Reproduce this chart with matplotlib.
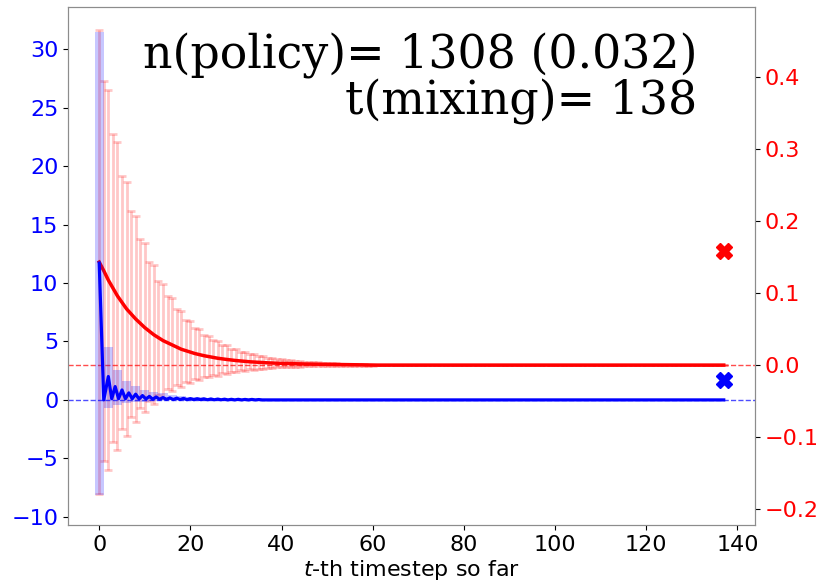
import matplotlib
matplotlib.use("Agg")
import matplotlib.pyplot as plt
import numpy as np

# timesteps for the red series
t = np.arange(138)

# red: mean with symmetric error (right axis)
red_mean = [0.143, 0.131, 0.118, 0.107, 0.096, 0.087, 0.078, 0.071, 0.064, 0.058,
            0.052, 0.047, 0.042, 0.038, 0.034, 0.031, 0.028, 0.025, 0.022, 0.020,
            0.018, 0.016, 0.0145, 0.013, 0.0118, 0.0106, 0.0095, 0.0086, 0.0078, 0.0070,
            0.0063, 0.0057, 0.0051, 0.0046, 0.0042, 0.0038, 0.0034, 0.0031, 0.0028, 0.0026,
            0.0024, 0.0022, 0.0020, 0.0018, 0.0017, 0.0015, 0.0014, 0.0013, 0.0012, 0.0011,
            0.0010, 0.0009, 0.0008, 0.0007, 0.0006, 0.0005, 0.0004, 0.0003, 0.0002, 0.0001,
            0.0] + [0.0] * 77
red_err = [0.322, 0.264, 0.264, 0.214, 0.214, 0.176, 0.176, 0.1435, 0.1435, 0.117,
           0.117, 0.0965, 0.0965, 0.079, 0.079, 0.0645, 0.0645, 0.053, 0.053, 0.043,
           0.043, 0.0355, 0.0355, 0.029, 0.029, 0.024, 0.024, 0.0195, 0.0195, 0.016,
           0.016, 0.013, 0.013, 0.0105, 0.0105, 0.0086, 0.0086, 0.007, 0.007, 0.0057,
           0.0057, 0.0046, 0.0046, 0.0038, 0.0038, 0.0031, 0.0031, 0.0025, 0.0025, 0.002,
           0.002, 0.0017, 0.0017, 0.0014, 0.0014, 0.0011, 0.0011, 0.0009, 0.0009, 0.0007,
           0.0007] + [0.0] * 77

# blue: bars (mean +- std) every second step (left axis)
bar_t = [0, 2, 4, 6, 8, 10, 12, 14, 16, 18, 20, 22, 24]
bar_lo = [-8.15, -0.68, -0.43, -0.30, -0.20, -0.15, -0.10, -0.07, -0.05, -0.04, -0.03, -0.02, -0.02]
bar_hi = [31.5, 4.55, 2.56, 1.60, 1.20, 0.85, 0.70, 0.57, 0.45, 0.35, 0.28, 0.22, 0.17]

# blue mean line
blue_t = np.r_[0, 1, np.arange(2, 36, 0.75), 137]
blue_mean = [11.7, 0.0,
             2.0, 0.1, 1.14, 0.1, 0.85, 0.1, 0.6, 0.1, 0.49, 0.08, 0.37, 0.08,
             0.3, 0.06, 0.25, 0.05, 0.2, 0.04, 0.17, 0.03, 0.15, 0.03, 0.13, 0.02,
             0.11, 0.02, 0.1, 0.02, 0.09, 0.01, 0.08, 0.01, 0.07, 0.01, 0.06, 0.0,
             0.05, 0.0, 0.05, 0.0, 0.04, 0.0, 0.04, 0.0, 0.03, 0.0,
             0.0]

final_blue = 1.7
final_red = 0.159
n_policy = 1308
frac = 0.032
t_mix = 138

fig = plt.figure(figsize=(8.31, 5.87), dpi=100)
ax1 = fig.add_axes([0.0818, 0.1056, 0.8267, 0.8824])
ax2 = ax1.twinx()

# red on right axis
ax2.errorbar(t, red_mean, yerr=red_err, fmt='none', ecolor='red', alpha=0.22,
             elinewidth=2, capsize=3, capthick=2)
ax2.plot(t, red_mean, color='red', lw=2.5)
ax2.axhline(0, color='red', ls='--', lw=1, alpha=0.7)
ax2.plot([t[-1]], [final_red], marker='X', color='red', ms=11, ls='none')

# blue on left axis
heights = np.array(bar_hi) - np.array(bar_lo)
ax1.bar(bar_t, heights, bottom=bar_lo, width=2, color='blue', alpha=0.22, lw=0)
ax1.plot(blue_t, blue_mean, color='blue', lw=2.3)
ax1.axhline(0, color='blue', ls='--', lw=1, alpha=0.7)
ax1.plot([t[-1]], [final_blue], marker='X', color='blue', ms=11, ls='none')

ax1.set_zorder(ax2.get_zorder() + 1)
ax1.patch.set_visible(False)

ax1.set_xlim(-6.85, 143.85)
ax1.set_ylim(-10.7, 33.6)
ax2.set_ylim(-0.222, 0.497)
ax1.set_xticks(range(0, 141, 20))
ax1.set_yticks(range(-10, 31, 5))
ax2.set_yticks([-0.2, -0.1, 0.0, 0.1, 0.2, 0.3, 0.4])

ax1.tick_params(axis='y', labelcolor='blue', labelsize=16)
ax2.tick_params(axis='y', labelcolor='red', labelsize=16)
ax1.tick_params(axis='x', labelsize=16)
for ax in (ax1, ax2):
    for s in ax.spines.values():
        s.set_color('0.55')
ax1.set_xlabel('$t$-th timestep so far', fontsize=16, labelpad=2)

ax1.text(0.916, 0.95, f"n(policy)= {n_policy} ({frac})\nt(mixing)= {t_mix}",
         transform=ax1.transAxes, ha='right', va='top', family='DejaVu Serif',
         fontsize=33, linespacing=1.0)

fig.savefig("out.png", dpi=100)
